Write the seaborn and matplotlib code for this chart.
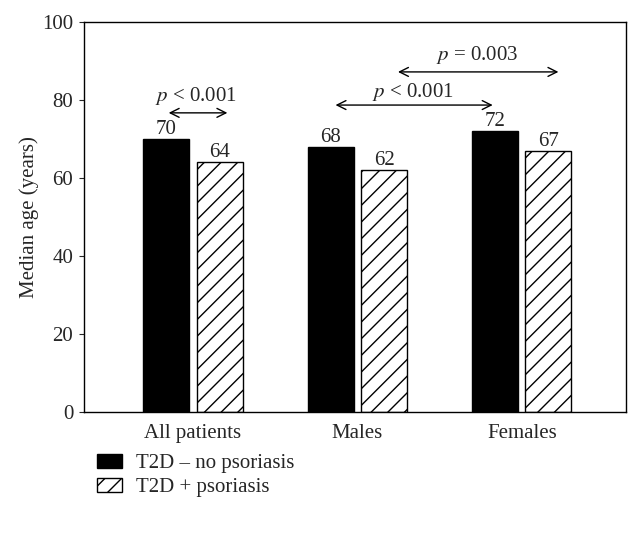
import pandas as pd
import numpy as np
import seaborn as sns
import matplotlib.pyplot as plt
from matplotlib.patches import Patch

# data
groups = ["All patients", "Males", "Females"]
series = ["T2D \u2013 no psoriasis", "T2D + psoriasis"]
no_psoriasis = [70, 68, 72]
with_psoriasis = [64, 62, 67]

df = pd.DataFrame({
    "group": groups * 2,
    "series": [series[0]] * 3 + [series[1]] * 3,
    "age": no_psoriasis + with_psoriasis,
})

sns.set_style("ticks")
plt.rcParams['font.family'] = ['Liberation Serif', 'DejaVu Serif']
plt.rcParams['font.size'] = 15
plt.rcParams['hatch.linewidth'] = 1.0
plt.rcParams['mathtext.fontset'] = 'stix'

fig = plt.figure(figsize=(6.44, 5.5), dpi=100)
ax = fig.add_axes([0.130, 0.251, 0.842, 0.709])

sns.barplot(data=df, x="group", y="age", hue="series", hue_order=series,
            palette=["black", "white"], width=0.65, gap=0.14,
            edgecolor="black", linewidth=1, saturation=1, legend=False, ax=ax)

# hatch the second series
for bar in ax.containers[1]:
    bar.set_hatch("//")
for cont in ax.containers:
    ax.bar_label(cont, fmt="%d", padding=0, fontsize=15)

ax.set_ylim(0, 100)
ax.set_yticks(range(0, 101, 20))
ax.set_xlim(-0.665, 2.634)
ax.set_xlabel("")
ax.set_ylabel("Median age (years)", fontsize=15, labelpad=2)
ax.tick_params(axis="x", length=0, labelsize=15, pad=9)
ax.tick_params(axis="y", labelsize=15, pad=4)
for s in ax.spines.values():
    s.set_linewidth(1)
    s.set_color("black")

# significance arrows
arrows = [(-0.165, 0.226, 76.7), (0.85, 1.84, 78.7), (1.23, 2.24, 87.2)]
labels = [(0.02, 81, "$p$ < 0.001"), (1.34, 82, "$p$ < 0.001"), (1.73, 91.5, "$p$ = 0.003")]
for x0, x1, y in arrows:
    ax.annotate("", xy=(x1, y), xytext=(x0, y),
                arrowprops=dict(arrowstyle="<->", color="black", lw=1, mutation_scale=16))
for x, y, t in labels:
    ax.text(x, y, t, ha="center", va="center", fontsize=15)

handles = [Patch(facecolor="black", edgecolor="black", label=series[0]),
           Patch(facecolor="white", edgecolor="black", hatch="//", label=series[1])]
fig.legend(handles=handles, loc="upper left", bbox_to_anchor=(0.138, 0.19),
           frameon=False, fontsize=15, handlelength=1.2, handleheight=0.7,
           labelspacing=0.2, borderaxespad=0, handletextpad=0.65)

fig.savefig("out.png", dpi=100)
